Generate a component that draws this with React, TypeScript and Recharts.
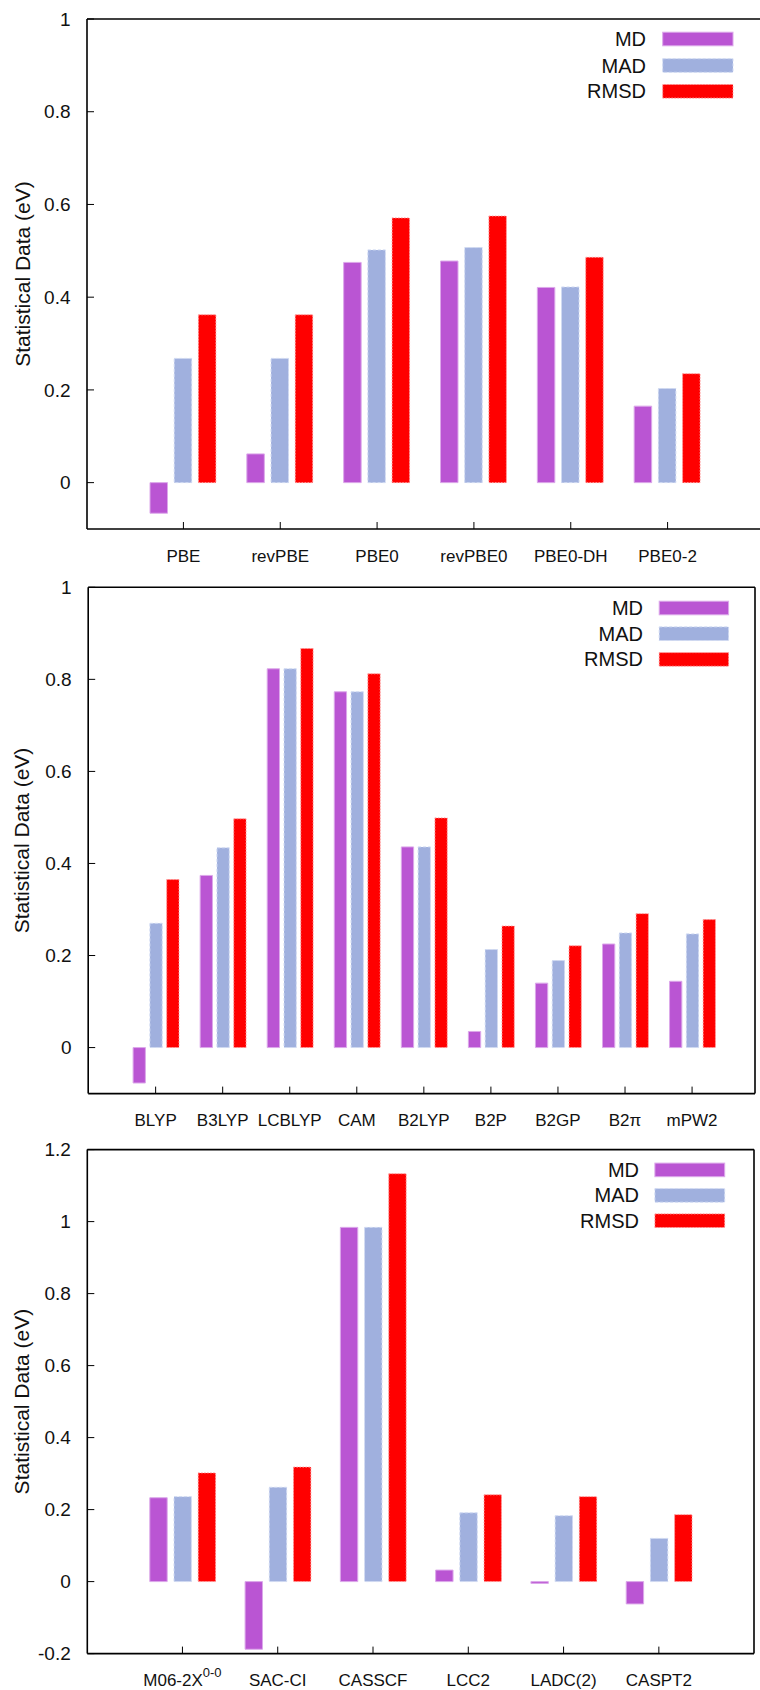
import React from 'react';
import { BarChart, Bar, XAxis, YAxis } from 'recharts';

// --- data ---
const pbeCategories = ['PBE', 'revPBE', 'PBE0', 'revPBE0', 'PBE0-DH', 'PBE0-2'];
const pbeMD = [-0.066, 0.062, 0.475, 0.478, 0.421, 0.165];
const pbeMAD = [0.268, 0.268, 0.502, 0.507, 0.422, 0.203];
const pbeRMSD = [0.362, 0.362, 0.571, 0.575, 0.486, 0.235];

const blypCategories = ['BLYP', 'B3LYP', 'LCBLYP', 'CAM', 'B2LYP', 'B2P', 'B2GP', 'B2π', 'mPW2'];
const blypMD = [-0.077, 0.374, 0.823, 0.773, 0.436, 0.035, 0.14, 0.225, 0.144];
const blypMAD = [0.27, 0.434, 0.823, 0.773, 0.436, 0.213, 0.189, 0.249, 0.247];
const blypRMSD = [0.365, 0.497, 0.867, 0.812, 0.499, 0.264, 0.221, 0.291, 0.278];

const wfCategories = ['M06-2X^{0-0}', 'SAC-CI', 'CASSCF', 'LCC2', 'LADC(2)', 'CASPT2'];
const wfMD = [0.233, -0.188, 0.984, 0.032, -0.005, -0.062];
const wfMAD = [0.236, 0.262, 0.984, 0.191, 0.183, 0.12];
const wfRMSD = [0.302, 0.318, 1.133, 0.241, 0.236, 0.186];

const yTicksUnit = [0, 0.2, 0.4, 0.6, 0.8, 1];
const yTicksWide = [-0.2, 0, 0.2, 0.4, 0.6, 0.8, 1, 1.2];

const seriesNames = ['MD', 'MAD', 'RMSD'];

// --- styling ---
const FONT = '"Liberation Sans", Arial, Helvetica, sans-serif';
const INK = '#111';
const TICK_LEN = 7;

const seriesStyle: Record<string, { fill: string; stroke: string; dash?: string }> = {
  MD: { fill: '#BA55D3', stroke: '#dca8ea' },
  MAD: { fill: '#A0B0DE', stroke: '#d0daf2', dash: '3 2' },
  RMSD: { fill: '#FF0000', stroke: '#ff9c9c', dash: '1.5 1.5' },
};

// x tick label, handles "X^{sup}" for superscripts
const XTick = (props: any) => {
  const { x, y, payload } = props;
  const label: string = String(payload.value);
  const m = label.match(/^(.*)\^\{(.*)\}$/);
  if (m) {
    return (
      <text x={x} y={y} dy="0.72em" textAnchor="middle" fontSize={17} fill={INK} fontFamily={FONT}>
        {m[1]}
        <tspan dy={-9} fontSize={13}>{m[2]}</tspan>
      </text>
    );
  }
  return (
    <text x={x} y={y} dy="0.72em" textAnchor="middle" fontSize={17} fill={INK} fontFamily={FONT}>
      {label}
    </text>
  );
};

interface PanelProps {
  top: number;
  height: number;
  plotTop: number;
  plotBottom: number;
  plotLeft: number;
  plotRight: number;
  padL: number;
  padR: number;
  barSize: number;
  barGap: number;
  domain: [number, number];
  ticks: number[];
  categories: string[];
  md: number[];
  mad: number[];
  rmsd: number[];
  legendY: number[];
  legendTextRight: number;
  legendSwX: number;
  legendSwW: number;
}

const Panel = (p: PanelProps) => {
  const data = p.categories.map((name, i) => ({ name, MD: p.md[i], MAD: p.mad[i], RMSD: p.rmsd[i] }));
  const width = p.plotRight + 12;
  const xAxisHeight = p.height - p.plotBottom;
  const midY = (p.plotTop + p.plotBottom) / 2;

  const axisLine = { stroke: '#000', strokeWidth: 1.6 };
  const tickLine = { stroke: '#000', strokeWidth: 1 };

  return (
    <div style={{ position: 'absolute', left: 0, top: p.top, width: 760, height: p.height, overflow: 'hidden' }}>
      <BarChart
        width={width}
        height={p.height}
        data={data}
        margin={{ top: p.plotTop - 1, right: width - p.plotRight - 1, left: 0, bottom: 0 }}
        barSize={p.barSize}
        barGap={p.barGap}
      >
        <XAxis
          xAxisId="bottom"
          dataKey="name"
          height={xAxisHeight}
          padding={{ left: p.padL, right: p.padR }}
          interval={0}
          axisLine={axisLine}
          tickLine={tickLine}
          tickSize={-TICK_LEN}
          tickMargin={TICK_LEN + 20.5}
          tick={<XTick />}
        />
        <XAxis
          xAxisId="top"
          orientation="top"
          dataKey="name"
          height={1}
          padding={{ left: p.padL, right: p.padR }}
          interval={0}
          axisLine={axisLine}
          tickLine={tickLine}
          tickSize={-TICK_LEN}
          tick={false}
        />
        <YAxis
          yAxisId="left"
          type="number"
          width={p.plotLeft}
          domain={p.domain}
          ticks={p.ticks}
          interval={0}
          allowDataOverflow
          axisLine={axisLine}
          tickLine={tickLine}
          tickSize={-TICK_LEN}
          tickMargin={TICK_LEN + 16.5}
          tick={{ fontSize: 19, fill: INK, fontFamily: FONT }}
          label={() => (
            <text
              x={22}
              y={midY}
              transform={`rotate(-90, 22, ${midY})`}
              textAnchor="middle"
              dominantBaseline="central"
              fontSize={21}
              fill={INK}
              fontFamily={FONT}
            >
              Statistical Data (eV)
            </text>
          )}
        />
        <YAxis
          yAxisId="right"
          orientation="right"
          type="number"
          width={1}
          domain={p.domain}
          ticks={p.ticks}
          interval={0}
          allowDataOverflow
          axisLine={axisLine}
          tickLine={tickLine}
          tickSize={-TICK_LEN}
          tick={false}
        />
        {seriesNames.map((s) => (
          <Bar
            key={s}
            dataKey={s}
            xAxisId="bottom"
            yAxisId="left"
            fill={seriesStyle[s].fill}
            stroke={seriesStyle[s].stroke}
            strokeWidth={1}
            strokeDasharray={seriesStyle[s].dash}
            isAnimationActive={false}
          />
        ))}
      </BarChart>
      <svg
        width={760}
        height={p.height}
        style={{ position: 'absolute', left: 0, top: 0, pointerEvents: 'none' }}
      >
        {seriesNames.map((s, i) => (
          <g key={s}>
            <text
              x={p.legendTextRight}
              y={p.legendY[i]}
              textAnchor="end"
              dominantBaseline="central"
              fontSize={20}
              fill={INK}
              fontFamily={FONT}
            >
              {s}
            </text>
            <rect
              x={p.legendSwX}
              y={p.legendY[i] - 6.8}
              width={p.legendSwW}
              height={13.6}
              fill={seriesStyle[s].fill}
              stroke={seriesStyle[s].stroke}
              strokeWidth={1}
              strokeDasharray={seriesStyle[s].dash}
            />
          </g>
        ))}
      </svg>
    </div>
  );
};

export default function App() {
  return (
    <div
      style={{
        position: 'absolute',
        left: 0,
        top: 0,
        width: 760,
        height: 1690,
        overflow: 'hidden',
        background: '#fff',
        fontFamily: FONT,
      }}
    >
      <Panel
        top={0}
        height={570}
        plotTop={19}
        plotBottom={529}
        plotLeft={87}
        plotRight={764}
        padL={48}
        padR={48}
        barSize={17.5}
        barGap={6.7}
        domain={[-0.1, 1]}
        ticks={yTicksUnit}
        categories={pbeCategories}
        md={pbeMD}
        mad={pbeMAD}
        rmsd={pbeRMSD}
        legendY={[39, 65.5, 91.3]}
        legendTextRight={646}
        legendSwX={662.7}
        legendSwW={70.3}
      />
      <Panel
        top={570}
        height={560}
        plotTop={17.3}
        plotBottom={523.6}
        plotLeft={88.2}
        plotRight={755}
        padL={33.9}
        padR={29.4}
        barSize={12.3}
        barGap={4.5}
        domain={[-0.1, 1]}
        ticks={yTicksUnit}
        categories={blypCategories}
        md={blypMD}
        mad={blypMAD}
        rmsd={blypRMSD}
        legendY={[38, 63.7, 89.4]}
        legendTextRight={643}
        legendSwX={659.2}
        legendSwW={69.4}
      />
      <Panel
        top={1130}
        height={560}
        plotTop={19.6}
        plotBottom={523.6}
        plotLeft={87.3}
        plotRight={754}
        padL={47.5}
        padR={47.5}
        barSize={17.4}
        barGap={6.8}
        domain={[-0.2, 1.2]}
        ticks={yTicksWide}
        categories={wfCategories}
        md={wfMD}
        mad={wfMAD}
        rmsd={wfRMSD}
        legendY={[39.9, 65.4, 90.7]}
        legendTextRight={639}
        legendSwX={654.9}
        legendSwW={69.8}
      />
    </div>
  );
}
